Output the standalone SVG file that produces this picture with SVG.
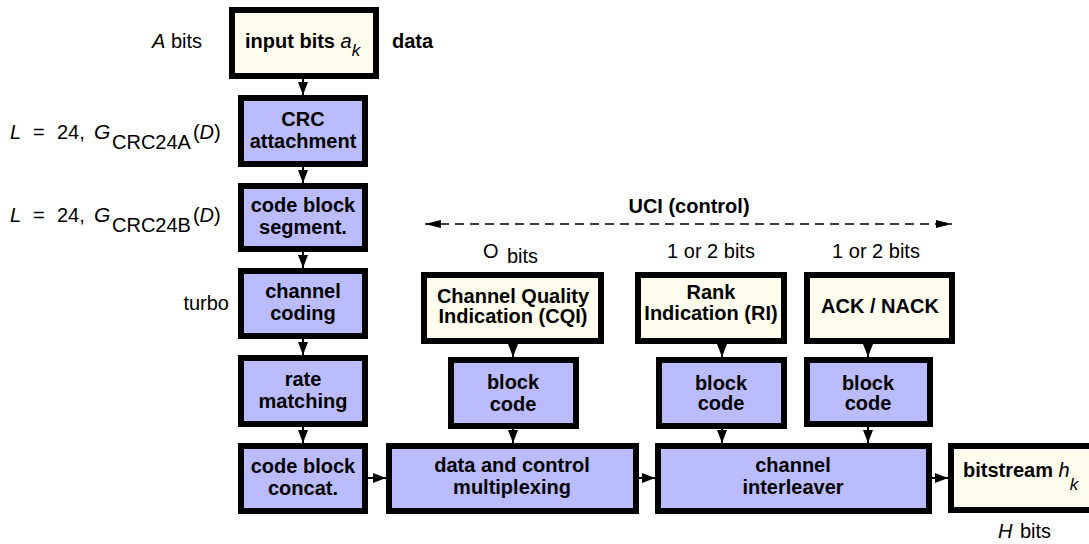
<svg xmlns="http://www.w3.org/2000/svg" width="1089" height="544" viewBox="0 0 1089 544">
<style>
.bx{stroke:#000;stroke-width:6}
.blue{fill:#BBBBFF}
.cream{fill:#FFFDEE}
text{font-family:"Liberation Sans",Arial,sans-serif;font-size:20px;fill:#000}
.b{font-weight:bold}
.c{text-anchor:middle}
.i{font-style:italic}
.ln{stroke:#000;stroke-width:2;fill:none}
.dash{stroke:#000;stroke-width:1.5;fill:none;stroke-dasharray:9 6}
</style>
<defs>
<marker id="ah" markerUnits="userSpaceOnUse" markerWidth="13" markerHeight="12" viewBox="0 0 13 12" refX="13" refY="6" orient="auto">
<path d="M0,1 L13,6 L0,11 Z" fill="#000"/>
</marker>
<marker id="ahd" markerUnits="userSpaceOnUse" markerWidth="16" markerHeight="10" viewBox="0 0 16 10" refX="16" refY="5" orient="auto-start-reverse">
<path d="M0,1 L16,5 L0,9 Z" fill="#000"/>
</marker>
</defs>
<rect width="1089" height="544" fill="#fff"/>

<g id="labels">
<text x="152" y="48"><tspan class="i">A</tspan><tspan x="171">bits</tspan></text>
<text x="392" y="48" class="b">data</text>
<text y="139"><tspan x="10" class="i">L</tspan><tspan x="33">=</tspan><tspan x="57">24,</tspan><tspan x="94" class="i" style="font-size:21px">G</tspan><tspan x="112" y="149">CRC24A</tspan><tspan dx="2" y="139">(</tspan><tspan class="i">D</tspan><tspan>)</tspan></text>
<text y="222"><tspan x="10" class="i">L</tspan><tspan x="33">=</tspan><tspan x="57">24,</tspan><tspan x="94" class="i" style="font-size:21px">G</tspan><tspan x="112" y="232">CRC24B</tspan><tspan dx="2" y="222">(</tspan><tspan class="i">D</tspan><tspan>)</tspan></text>
<text x="229" y="310" text-anchor="end">turbo</text>
<text x="689" y="213" class="b c">UCI (control)</text>
<text x="483" y="258" style="font-size:20px">O</text>
<text x="507" y="263">bits</text>
<text x="711" y="258" class="c">1 or 2 bits</text>
<text x="876" y="258" class="c">1 or 2 bits</text>
<text x="998" y="538"><tspan class="i">H</tspan><tspan x="1020">bits</tspan></text>
</g>

<g id="input">
<rect class="bx cream" x="232" y="10" width="144" height="66"/>
<text x="245" y="48"><tspan class="b">input bits </tspan><tspan class="i">a</tspan><tspan class="i" y="56" style="font-size:17px">k</tspan></text>
</g>
<g id="crc">
<rect class="bx blue" x="241" y="98" width="124" height="66"/>
<text x="303" y="126" class="b c">CRC</text>
<text x="303" y="148" class="b c">attachment</text>
</g>
<g id="seg">
<rect class="bx blue" x="241" y="186" width="124" height="63"/>
<text x="303" y="212" class="b c">code block</text>
<text x="303" y="234" class="b c">segment.</text>
</g>
<g id="chcoding">
<rect class="bx blue" x="241" y="271" width="124" height="65"/>
<text x="303" y="298" class="b c">channel</text>
<text x="303" y="320" class="b c">coding</text>
</g>
<g id="rate">
<rect class="bx blue" x="241" y="358" width="124" height="66"/>
<text x="303" y="386" class="b c">rate</text>
<text x="303" y="408" class="b c">matching</text>
</g>
<g id="concat">
<rect class="bx blue" x="241" y="446" width="124" height="65"/>
<text x="303" y="473" class="b c">code block</text>
<text x="303" y="495" class="b c">concat.</text>
</g>
<g id="mux">
<rect class="bx blue" x="389" y="446" width="247" height="65"/>
<text x="512" y="472" class="b c">data and control</text>
<text x="512" y="494" class="b c">multiplexing</text>
</g>
<g id="interleaver">
<rect class="bx blue" x="658" y="446" width="271" height="65"/>
<text x="793" y="472" class="b c">channel</text>
<text x="793" y="494" class="b c">interleaver</text>
</g>
<g id="bitstream">
<rect class="bx cream" x="951" y="446" width="146" height="64"/>
<text x="963" y="477"><tspan class="b">bitstream </tspan><tspan class="i">h</tspan><tspan class="i" y="490" style="font-size:17px">k</tspan></text>
</g>
<g id="cqi">
<rect class="bx cream" x="424" y="275" width="177" height="66"/>
<text x="513" y="303" class="b c">Channel Quality</text>
<text x="513" y="323" class="b c">Indication (CQI)</text>
</g>
<g id="ri">
<rect class="bx cream" x="638" y="275" width="146" height="66"/>
<text x="711" y="299" class="b c">Rank</text>
<text x="711" y="320" class="b c">Indication (RI)</text>
</g>
<g id="ack">
<rect class="bx cream" x="807" y="275" width="145" height="66"/>
<text x="880" y="313" class="b c">ACK / NACK</text>
</g>
<g id="bc1">
<rect class="bx blue" x="451" y="360" width="125" height="66"/>
<text x="513" y="389" class="b c">block</text>
<text x="513" y="411" class="b c">code</text>
</g>
<g id="bc2">
<rect class="bx blue" x="659" y="360" width="125" height="66"/>
<text x="721" y="390" class="b c">block</text>
<text x="721" y="410" class="b c">code</text>
</g>
<g id="bc3">
<rect class="bx blue" x="807" y="360" width="123" height="64"/>
<text x="868" y="390" class="b c">block</text>
<text x="868" y="410" class="b c">code</text>
</g>

<g id="connectors">
<line class="ln" x1="303" y1="79" x2="303" y2="95" marker-end="url(#ah)"/>
<line class="ln" x1="303" y1="167" x2="303" y2="183" marker-end="url(#ah)"/>
<line class="ln" x1="303" y1="252" x2="303" y2="268" marker-end="url(#ah)"/>
<line class="ln" x1="303" y1="339" x2="303" y2="355" marker-end="url(#ah)"/>
<line class="ln" x1="303" y1="427" x2="303" y2="443" marker-end="url(#ah)"/>
<line class="ln" x1="368" y1="478" x2="386" y2="478" marker-end="url(#ah)"/>
<line class="ln" x1="639" y1="478" x2="655" y2="478" marker-end="url(#ah)"/>
<line class="ln" x1="932" y1="478" x2="948" y2="478" marker-end="url(#ah)"/>
<line class="ln" x1="513" y1="344" x2="513" y2="357" marker-end="url(#ah)"/>
<line class="ln" x1="513" y1="429" x2="513" y2="443" marker-end="url(#ah)"/>
<line class="ln" x1="722" y1="344" x2="722" y2="357" marker-end="url(#ah)"/>
<line class="ln" x1="722" y1="429" x2="722" y2="443" marker-end="url(#ah)"/>
<line class="ln" x1="868" y1="344" x2="868" y2="357" marker-end="url(#ah)"/>
<line class="ln" x1="868" y1="427" x2="868" y2="443" marker-end="url(#ah)"/>
<line class="dash" x1="425" y1="224" x2="952" y2="224" marker-start="url(#ahd)" marker-end="url(#ahd)"/>
</g>
</svg>
